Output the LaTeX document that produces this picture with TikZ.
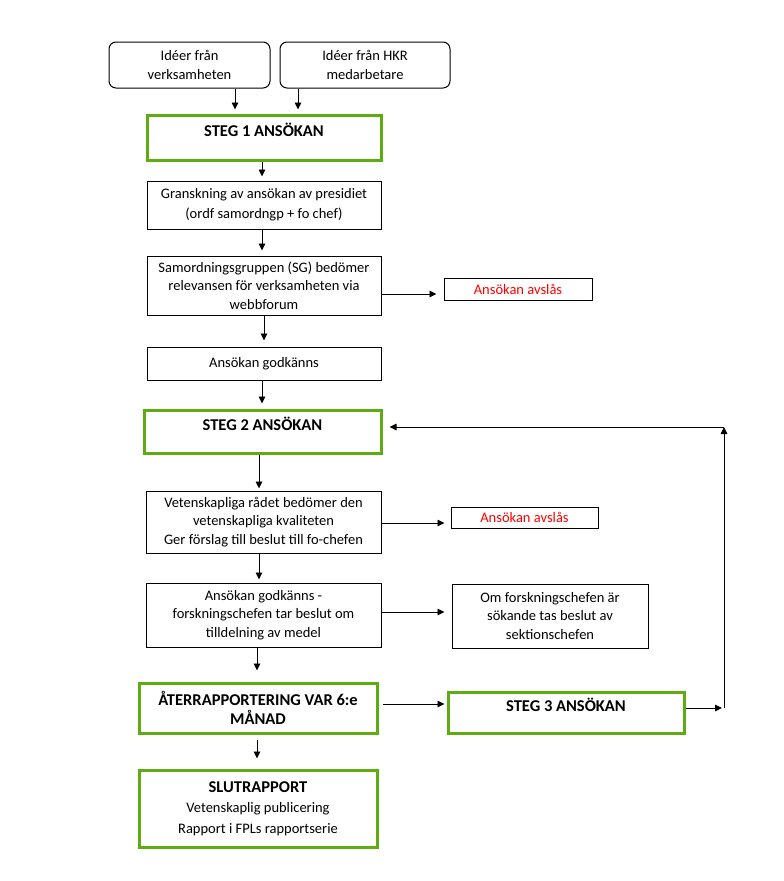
\documentclass[tikz,border=0pt]{standalone}
\usepackage{fontspec}
\setmainfont{Carlito}
\usetikzlibrary{arrows.meta}
\definecolor{gr}{RGB}{92,172,18}
\definecolor{rd}{RGB}{255,0,0}
\tikzset{
  base/.style={draw, line width=1pt, align=center, inner sep=0pt,
    font=\fontsize{14.5}{18.5}\selectfont},
  bbox/.style={base},
  rbox/.style={base, rounded corners=7pt},
  gbox/.style={base, draw=gr, line width=3pt, font=\fontsize{16.5}{19}\selectfont\bfseries},
  up/.style={text height=11pt, text depth=12.5pt},
  arr/.style={-{Triangle[length=7pt,width=6.5pt]}, line width=0.9pt}
}
\begin{document}
\begin{tikzpicture}[x=1pt,y=-1pt]
\useasboundingbox (0,0) rectangle (784,881);
\node[rbox, minimum width=161, minimum height=46] (idea1) at (189.5,65) {Idéer från\\verksamheten};
\node[rbox, minimum width=170, minimum height=46] (idea2) at (365,65) {Idéer från HKR\\medarbetare};
\node[gbox, up, minimum width=234, minimum height=45] (steg1) at (264,137.5) {STEG 1 ANSÖKAN};
\node[bbox, minimum width=234, minimum height=48, font=\fontsize{14.5}{20}\selectfont] (gran) at (264,205) {Granskning av ansökan av presidiet\\(ordf samordngp + fo chef)};
\node[bbox, minimum width=234, minimum height=59] (samord) at (264,285.5) {Samordningsgruppen (SG) bedömer\\relevansen för verksamheten via\\webbforum};
\node[bbox, minimum width=148, minimum height=22, text=rd] (avs1) at (518,289) {Ansökan avslås};
\node[bbox, minimum width=234, minimum height=33] (godk) at (264,363.5) {Ansökan godkänns};
\node[gbox, up, minimum width=237, minimum height=43] (steg2) at (262.5,431.5) {STEG 2 ANSÖKAN};
\node[bbox, minimum width=235, minimum height=62] (vet) at (263.5,522) {Vetenskapliga rådet bedömer den\\vetenskapliga kvaliteten\\Ger förslag till beslut till fo-chefen};
\node[bbox, minimum width=147, minimum height=21, text=rd] (avs2) at (524.5,517.5) {Ansökan avslås};
\node[bbox, minimum width=235, minimum height=64] (godk2) at (263.5,615) {Ansökan godkänns -\\forskningschefen tar beslut om\\tilldelning av medel};
\node[bbox, minimum width=196, minimum height=64] (om) at (550,616) {Om forskningschefen är\\sökande tas beslut av\\sektionschefen};
\node[gbox, minimum width=238, minimum height=50] (ater) at (258,708) {ÅTERRAPPORTERING VAR 6:e\\MÅNAD};
\node[gbox, up, minimum width=236, minimum height=41] (steg3) at (566,712.5) {STEG 3 ANSÖKAN};
\node[gbox, minimum width=238, minimum height=77, font=\fontsize{14.5}{20.5}\selectfont] (slut) at (258,808.5) {{\fontsize{16.5}{20.5}\selectfont\bfseries SLUTRAPPORT}\\Vetenskaplig publicering\\Rapport i FPLs rapportserie};
% connectors
\coordinate (a1) at ([xshift=45.5pt]idea1.south);
\coordinate (a2) at ([xshift=-67pt]idea2.south);
\draw[arr, shorten >=4pt] (a1) -- (a1 |- steg1.north);
\draw[arr, shorten >=4pt] (a2) -- (a2 |- steg1.north);
\coordinate (b1) at ([xshift=-2pt]steg1.south);
\draw[arr, shorten >=4pt] (b1) -- (b1 |- gran.north);
\coordinate (b2) at ([xshift=-2pt]gran.south);
\draw[arr, shorten >=5pt] (b2) -- (b2 |- samord.north);
\coordinate (b3) at (samord.south);
\draw[arr, shorten >=6pt] (b3) -- (b3 |- godk.north);
\coordinate (b4) at ([xshift=-2pt]godk.south);
\draw[arr, shorten >=5pt] (b4) -- (b4 |- steg2.north);
\coordinate (b5) at ([xshift=-3.5pt]steg2.south);
\draw[arr, shorten >=2pt] (b5) -- (b5 |- vet.north);
\coordinate (b6) at ([xshift=-4.5pt]vet.south);
\draw[arr, shorten >=3pt] (b6) -- (b6 |- godk2.north);
\coordinate (b7) at ([xshift=-6.5pt]godk2.south);
\draw[arr, shorten >=11pt] (b7) -- (b7 |- ater.north);
\coordinate (b8) at ([xshift=-1pt]ater.south);
\draw[arr, shorten <=5pt, shorten >=10pt] (b8) -- (b8 |- slut.north);
\coordinate (h1) at ([yshift=-8.5pt]samord.east);
\draw[arr, shorten >=7pt] (h1) -- (h1 -| avs1.west);
\coordinate (h2) at ([yshift=-1pt]vet.east);
\draw[arr, shorten >=6pt] (h2) -- (h2 -| avs2.west);
\coordinate (h3) at ([yshift=3pt]godk2.east);
\draw[arr, shorten >=7pt] (h3) -- (h3 -| om.west);
\coordinate (h4) at ([yshift=4pt]ater.east);
\draw[arr, shorten <=4pt, shorten >=2pt] (h4) -- (h4 -| steg3.west);
\coordinate (h5) at ([yshift=4.5pt]steg3.east);
\coordinate (r1) at (724,708);
\coordinate (r2) at (724,427);
\draw[arr, shorten >=2pt] (h5) -- (r1);
\draw[arr] (r1) -- (r2);
\coordinate (h6) at ([yshift=4.5pt]steg2.east);
\draw[arr, shorten >=7pt] (r2) -- (h6);
\end{tikzpicture}
\end{document}
